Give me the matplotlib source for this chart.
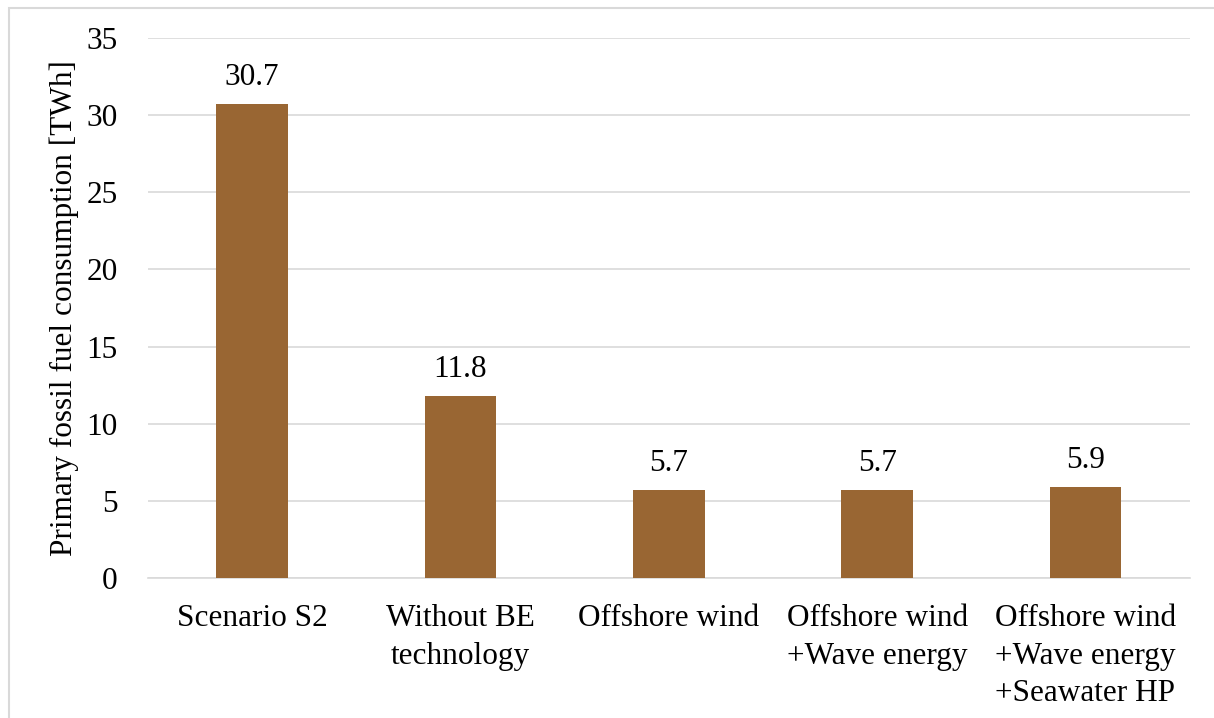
import matplotlib
matplotlib.use("Agg")
import matplotlib.pyplot as plt
from matplotlib.patches import Rectangle

categories = ["Scenario S2", "Without BE\ntechnology", "Offshore wind",
              "Offshore wind\n+Wave energy", "Offshore wind\n+Wave energy\n+Seawater HP"]
values = [30.7, 11.8, 5.7, 5.7, 5.9]
yticks = [0, 5, 10, 15, 20, 25, 30, 35]

plt.rcParams['font.family'] = ['Liberation Serif', 'DejaVu Serif']
FS = 22.5

fig = plt.figure(figsize=(12.14, 7.18), dpi=100)
ax = fig.add_axes([0.1219, 0.195, 0.858, 0.752])

x = list(range(len(categories)))
ax.bar(x, values, width=0.345, color='#996633', zorder=3)
for xi, v in zip(x, values):
    ax.text(xi, v + 0.8, f"{v:.1f}", ha='center', va='bottom', fontsize=FS, color='#000000')

ax.set_xlim(-0.5, len(categories) - 0.5)
ax.set_ylim(0, 35)
ax.set_yticks(yticks)
ax.set_yticklabels([str(t) for t in yticks], fontsize=FS)
ax.set_xticks(x)
ax.set_xticklabels(categories, fontsize=FS, linespacing=1.38)
ax.tick_params(axis='x', length=0, pad=19)
ax.tick_params(axis='y', length=0, pad=22)
ax.grid(axis='y', color='#d9d9d9', linewidth=1.2, zorder=0)
for s in ['top', 'right', 'left']:
    ax.spines[s].set_visible(False)
ax.spines['bottom'].set_color('#d9d9d9')
ax.spines['bottom'].set_linewidth(1.2)
ax.set_ylabel("Primary fossil fuel consumption [TWh]", fontsize=FS, labelpad=5)

fig.patches.append(Rectangle((8.5/1214, -0.05), 1.1, 1.05 - 7.5/718, transform=fig.transFigure,
                             fill=False, edgecolor='#d9d9d9', linewidth=1.5))

fig.savefig("out.png", dpi=100)
